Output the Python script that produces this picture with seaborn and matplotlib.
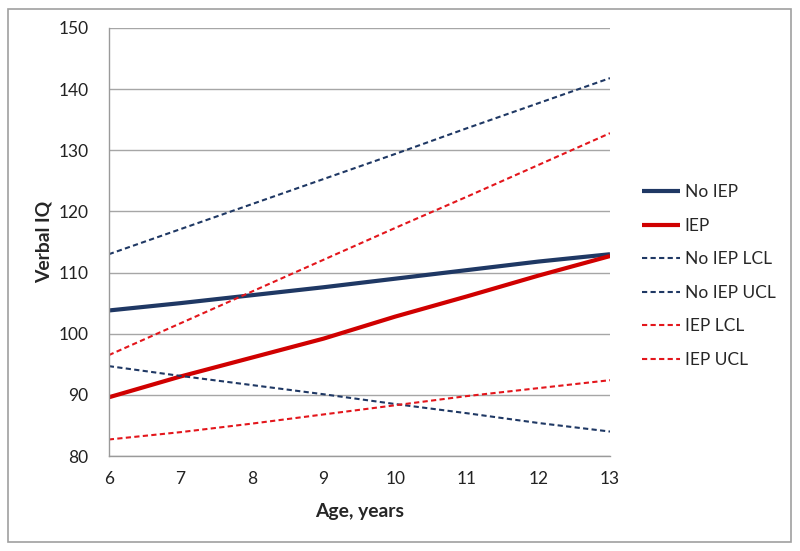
import pandas as pd
import seaborn as sns
import matplotlib.pyplot as plt
from matplotlib.patches import Rectangle

# values
age = [6, 7, 8, 9, 10, 11, 12, 13]
no_iep = [103.8, 105.0, 106.3, 107.6, 109.0, 110.4, 111.8, 113.0]
iep = [89.6, 93.0, 96.1, 99.2, 102.8, 106.1, 109.5, 112.7]
no_iep_lcl = [94.7, 93.1, 91.6, 90.1, 88.5, 87.0, 85.4, 84.0]
no_iep_ucl = [113.0, 117.1, 121.2, 125.3, 129.4, 133.6, 137.7, 141.8]
iep_lcl = [82.7, 83.9, 85.3, 86.8, 88.3, 89.8, 91.1, 92.4]
iep_ucl = [96.5, 101.7, 106.9, 112.1, 117.3, 122.4, 127.6, 132.8]

series_names = ["No IEP", "IEP", "No IEP LCL", "No IEP UCL", "IEP LCL", "IEP UCL"]
series_values = [no_iep, iep, no_iep_lcl, no_iep_ucl, iep_lcl, iep_ucl]

navy = "#1F3864"
red = "#D00000"
red_dash = "#E3161C"
dash = (0, (2.5, 1.6))
styles = {
    "No IEP": dict(color=navy, lw=3.0, ls="-"),
    "IEP": dict(color=red, lw=3.0, ls="-"),
    "No IEP LCL": dict(color=navy, lw=1.5, ls=dash),
    "No IEP UCL": dict(color=navy, lw=1.5, ls=dash),
    "IEP LCL": dict(color=red_dash, lw=1.5, ls=dash),
    "IEP UCL": dict(color=red_dash, lw=1.5, ls=dash),
}

sns.set_style("white")
plt.rcParams["font.family"] = ["Lato", "DejaVu Sans"]

fig = plt.figure(figsize=(8, 5.51), dpi=100)
ax = fig.add_axes([0.136, 0.1724, 0.6265, 0.7768])

# text sizes (pt) so the labels span about as many pixels as in the reference
tick_fs = 12.5
leg_fs = 12.5
lab_fs = 13.9
leg_px = leg_fs * 100 / 72

for name, vals in zip(series_names, series_values):
    df = pd.DataFrame({"age": age, "iq": vals})
    st = styles[name]
    sns.lineplot(data=df, x="age", y="iq", ax=ax, color=st["color"],
                 linewidth=st["lw"], linestyle=st["ls"], label=name,
                 solid_capstyle="butt")

ax.set_xlim(6, 13)
ax.set_ylim(80, 150)
ax.set_xticks(range(6, 14))
ax.set_yticks(range(80, 151, 10))
ax.grid(axis="y", color="#A6A6A6", lw=1.0)
ax.set_axisbelow(True)
for s in ["top", "right"]:
    ax.spines[s].set_visible(False)
for s in ["left", "bottom"]:
    ax.spines[s].set_color("#9A9A9A")
    ax.spines[s].set_linewidth(1.0)
ax.tick_params(axis="both", direction="out", length=5, width=1.0,
               color="#9A9A9A", labelsize=tick_fs, labelcolor="#222222")
ax.tick_params(axis="y", pad=9.5)
ax.tick_params(axis="x", pad=6)

ax.set_xlabel("Age, years", fontsize=lab_fs, fontweight="bold")
ax.set_ylabel("Verbal IQ", fontsize=lab_fs, fontweight="bold")
ax.xaxis.set_label_coords(0.5, -0.11)
ax.yaxis.set_label_coords(-0.112, 0.5)

handles, labels = ax.get_legend_handles_labels()
ax.legend(handles, labels, loc="center left", bbox_to_anchor=(0.802, 0.499),
          bbox_transform=fig.transFigure, frameon=False, fontsize=leg_fs,
          handlelength=38 / leg_px, handletextpad=5 / leg_px,
          labelspacing=34 / leg_px - 0.95, borderpad=0, borderaxespad=0)

# outer chart border
fig.patches.append(Rectangle((8 / 800, 9 / 551), 783 / 800, 533 / 551,
                             transform=fig.transFigure, fill=False,
                             edgecolor="#A0A0A0", lw=1.2))

fig.savefig("out.png", dpi=100)
